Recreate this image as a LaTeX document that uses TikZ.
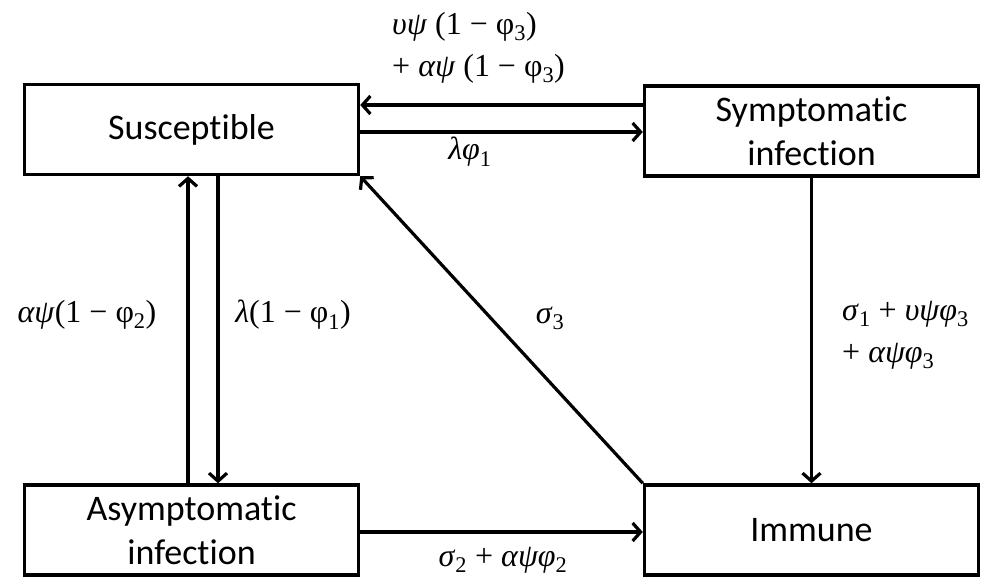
\documentclass[tikz,border=0pt]{standalone}
\usepackage{fontspec}
\setmainfont{Carlito}[Ligatures=NoCommon]
\newfontfamily\ratefont{Liberation Serif}
\usetikzlibrary{arrows.meta, positioning}
\newcommand{\gk}[1]{\textit{#1}}
\newcommand{\sub}[1]{\textsubscript{#1}}

\begin{document}
\begin{tikzpicture}[
    x=1pt, y=-1pt,
    box/.style={rectangle, draw, line width=3.5pt, minimum width=334pt,
                minimum height=90pt, align=center, inner sep=0pt,
                font=\fontsize{36}{44}\selectfont},
    arrow/.style={-{Straight Barb[length=8pt, width=18pt]}, line width=3.2pt},
    rate/.style={inner sep=0pt, align=left, font=\ratefont\fontsize{32}{42}\selectfont}
  ]
    \useasboundingbox (0,0) rectangle (983,578);

    \node[box] (sus) at (191.5,129.5) {Susceptible};
    \node[box] (sym) at (811.5,131)   {Symptomatic\\infection};
    \node[box] (asy) at (191.5,530)   {Asymptomatic\\infection};
    \node[box] (imm) at (811.5,530)   {Immune};

    \draw[arrow] ([yshift=26pt]sym.west) -- ([yshift=26pt]sym.west -| sus.east);
    \draw[arrow] ([yshift=-2.5pt]sus.east) -- ([yshift=-2.5pt]sus.east -| sym.west);
    \draw[arrow] ([xshift=-3.5pt]asy.north) -- ([xshift=-3.5pt]asy.north |- sus.south);
    \draw[arrow] ([xshift=26.5pt]sus.south) -- ([xshift=26.5pt]sus.south |- asy.north);
    \draw[arrow] (imm.north west) -- (sus.south east);
    \draw[arrow] (sym.south) -- (imm.north);
    \draw[arrow] ([yshift=-2pt]asy.east) -- ([yshift=-2pt]asy.east -| imm.west);

    \node[rate, anchor=west] (r1) at (392,48)
      {\gk{υψ} (1 − φ\sub{3})\\+ \gk{αψ} (1 − φ\sub{3})};
    \node[rate] (r2) at (470,152) {\gk{λφ}\sub{1}};
    \node[rate] (r3) at (87,315) {\gk{αψ}(1 − φ\sub{2})};
    \node[rate] (r4) at (293,315) {\gk{λ}(1 − φ\sub{1})};
    \node[rate] (r5) at (550,318) {\gk{σ}\sub{3}};
    \node[rate, anchor=west] (r6) at (842,335)
      {\gk{σ}\sub{1} + \gk{υψφ}\sub{3}\\+ \gk{αψφ}\sub{3}};
    \node[rate] (r7) at (503,560) {\gk{σ}\sub{2} + \gk{αψφ}\sub{2}};
  \end{tikzpicture}
\end{document}
